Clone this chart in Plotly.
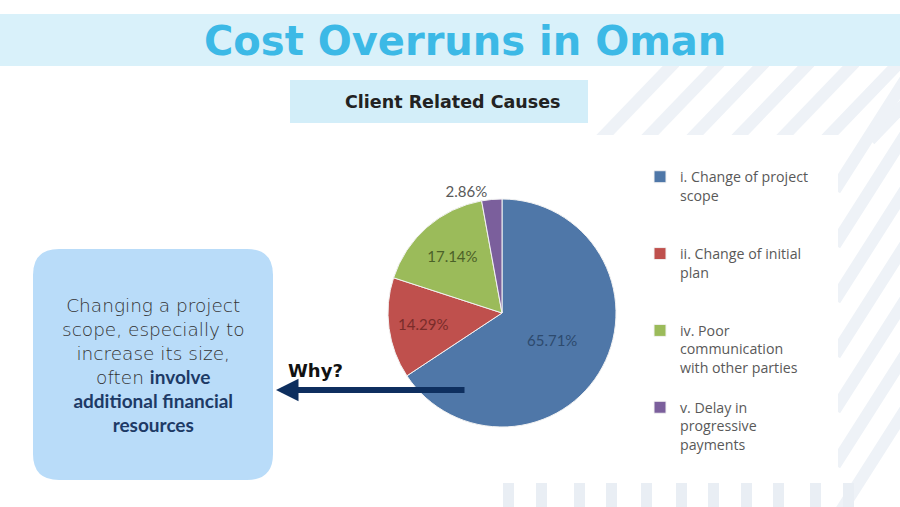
import plotly.graph_objects as go

W, H = 900, 507

# ---- data ----
categories = [
    "i. Change of project scope",
    "ii. Change of initial plan",
    "iv. Poor communication with other parties",
    "v. Delay in progressive payments",
]
legend_labels = [
    "i. Change of project<br>scope<br>\u00a0<br>\u00a0",
    "ii. Change of initial<br>plan<br>\u00a0<br>\u00a0",
    "iv. Poor<br>communication<br>with other parties<br>\u00a0",
    "v. Delay in<br>progressive<br>payments",
]
shares = [65.71, 14.29, 17.14, 2.86]
slice_colors = ["#4f77a8", "#bf504d", "#9bbb5a", "#7b5f9c"]
label_colors = ["#2d4a6e", "#7a2c2a", "#4b6128", "#595959"]
label_positions = ["inside", "inside", "inside", "outside"]

title_text = "Cost Overruns in Oman"
subtitle_text = "Client Related Causes"


def px(x):
    return x / W


def py(y):
    return 1 - y / H


fig = go.Figure()

fig.add_trace(go.Pie(
    labels=legend_labels,
    values=shares,
    sort=False,
    direction="clockwise",
    rotation=0,
    marker=dict(colors=slice_colors, line=dict(color="#f2f2f2", width=1)),
    texttemplate="%{value:.2f}%",
    textposition=label_positions,
    insidetextorientation="horizontal",
    textfont=dict(family="Lato", size=15, color=label_colors),
    hoverinfo="skip",
    domain=dict(x=[px(388), px(616)], y=[py(427), py(199)]),
    showlegend=True,
))

shapes = []
stripe = "#eef2f7"
# decorative diagonal stripes (top right)
for x0 in [600, 645, 690, 735, 780, 825, 870, 915]:
    shapes.append(dict(type="line", xref="paper", yref="paper",
                       x0=px(x0), y0=py(140), x1=px(x0 + 75), y1=py(62),
                       line=dict(color=stripe, width=12), layer="below"))
# decorative stripes (right edge)
for y0 in [190, 245, 300, 355, 410, 465, 520]:
    shapes.append(dict(type="line", xref="paper", yref="paper",
                       x0=px(835), y0=py(y0), x1=px(905), y1=py(y0 - 110),
                       line=dict(color=stripe, width=12), layer="below"))
# decorative vertical bars (bottom)
for xb in [503, 536, 574, 606, 641, 676, 708, 741, 773, 810, 843]:
    shapes.append(dict(type="rect", xref="paper", yref="paper",
                       x0=px(xb), x1=px(xb + 11), y0=py(507), y1=py(483),
                       fillcolor="#e9eef4", line=dict(width=0), layer="below"))
# white panel behind chart
shapes.append(dict(type="rect", xref="paper", yref="paper",
                   x0=px(370), x1=px(838), y0=py(480), y1=py(135),
                   fillcolor="white", line=dict(width=0), layer="below"))
# title band
shapes.append(dict(type="rect", xref="paper", yref="paper",
                   x0=0, x1=1, y0=py(66), y1=py(14),
                   fillcolor="#d9f1fa", line=dict(width=0), layer="below"))
# subtitle box
shapes.append(dict(type="rect", xref="paper", yref="paper",
                   x0=px(290), x1=px(588), y0=py(123), y1=py(80),
                   fillcolor="#d3eef9", line=dict(width=0), layer="below"))
# rounded left box
bx0, bx1, by0, by1, r = 33, 273, 249, 480, 26
path = (f"M {bx0 + r},{by0} L {bx1 - r},{by0} Q {bx1},{by0} {bx1},{by0 + r} "
        f"L {bx1},{by1 - r} Q {bx1},{by1} {bx1 - r},{by1} "
        f"L {bx0 + r},{by1} Q {bx0},{by1} {bx0},{by1 - r} "
        f"L {bx0},{by0 + r} Q {bx0},{by0} {bx0 + r},{by0} Z")
shapes.append(dict(type="path", xref="x", yref="y", path=path,
                   fillcolor="#b9dcf9", line=dict(width=0), layer="below"))

bold = '<span style="font-family:Lato;font-weight:bold;font-size:19px;color:#1d3a66">'
box_text = ("Changing a project<br>scope, especially to<br>increase its size,<br>"
            f"often {bold}<b>involve</b></span><br>"
            f"{bold}<b>additional financial</b></span><br>"
            f"{bold}<b>resources</b></span>")

common = dict(xref="paper", yref="paper", xanchor="center", yanchor="middle")
annotations = [
    dict(text=f"<b>{title_text}</b>", x=px(465), y=py(41), showarrow=False,
         font=dict(family="DejaVu Sans", size=40, color="#3cb9e6"), **common),
    dict(text=f"<b>{subtitle_text}</b>", x=px(453), y=py(102), showarrow=False,
         font=dict(family="DejaVu Sans", size=17.5, color="#222222"), **common),
    dict(text=box_text, x=px(153), y=py(365), showarrow=False, align="center",
         font=dict(family="DejaVu Sans", size=18.5, color="#333333", weight=300), **common),
    dict(text="<b>Why?</b>", x=px(315), y=py(370), showarrow=False,
         font=dict(family="DejaVu Sans", size=18, color="#111111"), **common),
    dict(text="", x=px(276), y=py(390), xref="paper", yref="paper",
         showarrow=True, ax=190, ay=0, arrowhead=2, arrowsize=0.75,
         arrowwidth=6, arrowcolor="#0e2f5f", standoff=0),
]

fig.update_layout(
    width=W, height=H,
    margin=dict(l=0, r=0, t=0, b=0),
    paper_bgcolor="white", plot_bgcolor="rgba(0,0,0,0)",
    xaxis=dict(range=[0, W], visible=False, fixedrange=True),
    yaxis=dict(range=[H, 0], visible=False, fixedrange=True),
    shapes=shapes,
    annotations=annotations,
    legend=dict(x=px(640), y=py(161), xanchor="left", yanchor="top",
                valign="top", bgcolor="rgba(0,0,0,0)",
                font=dict(family="Open Sans", size=14.2, color="#595959")),
)

fig.write_html("out.html", config={"displayModeBar": False},
               post_script="document.body.style.margin='0';")
